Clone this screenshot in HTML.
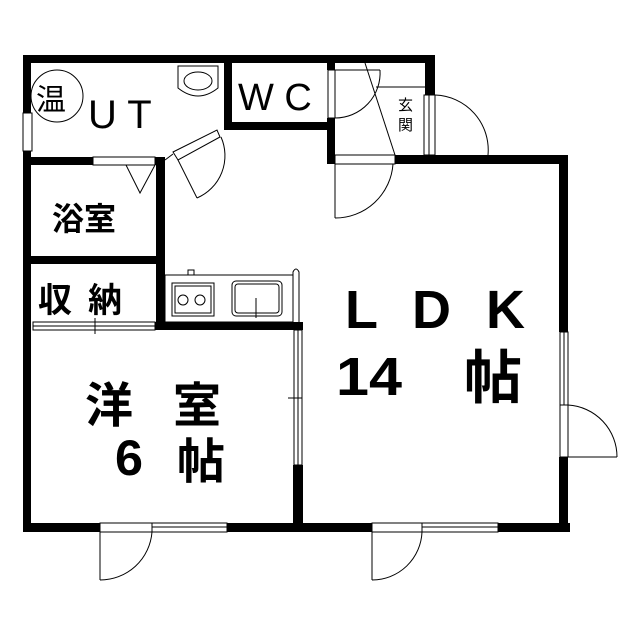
<!DOCTYPE html>
<html><head><meta charset="utf-8"><style>
html,body{margin:0;padding:0;background:#fff;}
svg{display:block;}
text{font-family:"Liberation Sans","Noto Sans CJK JP",sans-serif;fill:#000;}
.b{font-weight:bold;}
</style></head><body>
<svg width="639" height="640" viewBox="0 0 639 640" xmlns="http://www.w3.org/2000/svg">
<rect width="639" height="640" fill="#fff"/>
<g fill="#000">
<rect x="23" y="55" width="412" height="8"/>
<rect x="23" y="55" width="8" height="477"/>
<rect x="425" y="55" width="10" height="40"/>
<rect x="23" y="157" width="142" height="8"/>
<rect x="156" y="157" width="9" height="173"/>
<rect x="23" y="256" width="142" height="8"/>
<rect x="224" y="55" width="8" height="75"/>
<rect x="224" y="122" width="111" height="8"/>
<rect x="327" y="55" width="8" height="15"/>
<rect x="327" y="118" width="8" height="46"/>
<rect x="395" y="155" width="173" height="9"/>
<rect x="327" y="155" width="8" height="9"/>
<rect x="559" y="155" width="9" height="177"/>
<rect x="559" y="457" width="9" height="75"/>
<rect x="23" y="523" width="547" height="9"/>
<rect x="155" y="322" width="148" height="8"/>
<rect x="293" y="465" width="10" height="60"/>
</g>
<g fill="#fff" stroke="#000" stroke-width="1">
<rect x="23" y="113" width="9" height="38"/>
<rect x="93" y="157" width="62" height="8"/>
<rect x="33" y="322" width="122" height="8"/>
<line x1="33" y1="326" x2="155" y2="326"/>
<line x1="95" y1="318" x2="95" y2="334"/>
<rect x="294" y="330" width="8" height="135"/>
<line x1="298" y1="330" x2="298" y2="465"/>
<line x1="288" y1="398" x2="302" y2="398"/>
<rect x="328" y="70" width="7" height="48"/>
<rect x="424" y="95" width="11" height="60"/>
<line x1="429" y1="95" x2="429" y2="155"/>
<rect x="335" y="155" width="60" height="9"/>
<rect x="100" y="523" width="52" height="9"/>
<rect x="152" y="523" width="75" height="9"/>
<line x1="152" y1="527" x2="227" y2="527"/>
<rect x="372" y="523" width="50" height="9"/>
<rect x="422" y="523" width="76" height="9"/>
<line x1="422" y1="527" x2="498" y2="527"/>
<rect x="560" y="332" width="8" height="73"/>
<line x1="564" y1="332" x2="564" y2="405"/>
<rect x="560" y="405" width="8" height="52"/>
</g>
<g fill="none" stroke="#000" stroke-width="1">
<polyline points="126,165 140,193 155,165"/>
<polygon points="173,152 217,130 220,137 178,160"/>
<line x1="178" y1="160" x2="197" y2="198"/>
<path d="M197,198 A46,46 0 0 0 221,137"/>
<line x1="165" y1="160" x2="173" y2="154"/>
<line x1="335" y1="70" x2="380" y2="70"/>
<path d="M380,70 A45,45 0 0 1 335,118"/>
<line x1="365" y1="63" x2="395" y2="155"/>
<line x1="376" y1="87" x2="425" y2="87"/>
<path d="M435,95 A55,55 0 0 1 488,155"/>
<line x1="335" y1="164" x2="335" y2="218"/>
<path d="M335,218 A58,58 0 0 0 393,164"/>
<line x1="100" y1="532" x2="100" y2="580"/>
<path d="M100,580 A52,52 0 0 0 152,532"/>
<line x1="372" y1="532" x2="372" y2="580"/>
<path d="M372,580 A50,50 0 0 0 422,532"/>
<line x1="568" y1="457" x2="617" y2="457"/>
<path d="M617,457 A52,52 0 0 0 568,405"/>
<path d="M178,66 L218,66 L218,88 Q198,104 178,88 Z"/>
<ellipse cx="198" cy="81" rx="14" ry="9"/>
<circle cx="57" cy="96" r="26"/>
<rect x="165" y="275" width="128" height="47"/>
<rect x="172" y="283" width="42" height="33"/>
<rect x="175" y="286" width="36" height="27"/>
<circle cx="183" cy="300" r="5"/>
<circle cx="200" cy="300" r="5"/>
<rect x="232" y="281" width="50" height="35" rx="4"/>
<rect x="235" y="284" width="44" height="29" rx="3"/>
<line x1="256" y1="298" x2="256" y2="318"/>
<rect x="188" y="270" width="6" height="5"/>
<path d="M293,322 L293,272 Q296,266 299,272 L299,322"/>
</g>
<text x="36" y="110" font-size="30">温</text>
<text x="88" y="128" font-size="40">U T</text>
<text x="238" y="110" font-size="38">W C</text>
<text x="398" y="110" font-size="15">玄</text>
<text x="398" y="130" font-size="15">関</text>
<text class="b" x="52" y="230" font-size="32">浴室</text>
<text class="b" x="38" y="312" font-size="34" letter-spacing="16">収納</text>
<text class="b" x="345" y="328" font-size="54" letter-spacing="10">L D K</text>
<text class="b" x="336" y="395" font-size="54" textLength="66" lengthAdjust="spacingAndGlyphs">14</text>
<text class="b" x="464" y="398" font-size="58">帖</text>
<text class="b" x="85" y="422" font-size="48" letter-spacing="40">洋室</text>
<text class="b" x="115" y="475" font-size="50" textLength="28" lengthAdjust="spacingAndGlyphs">6</text>
<text class="b" x="177" y="478" font-size="48">帖</text>
</svg>
</body></html>
